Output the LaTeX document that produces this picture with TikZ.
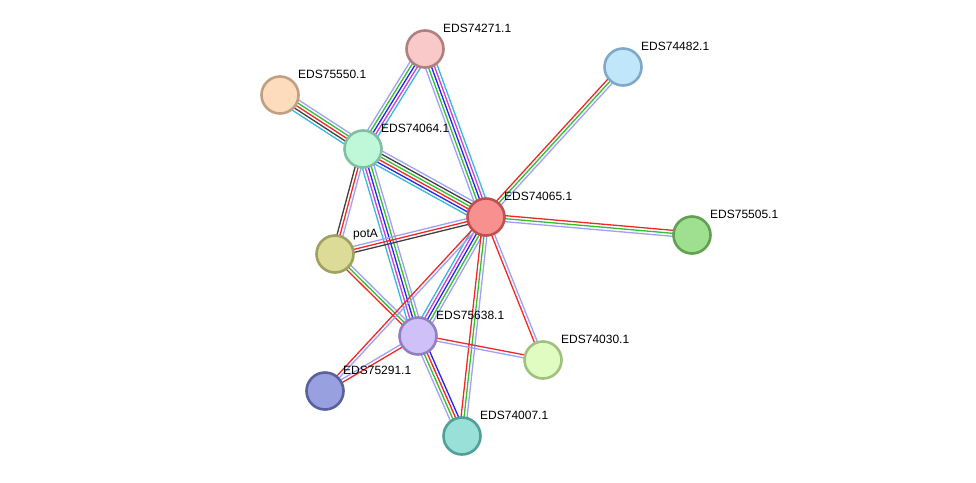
\documentclass[tikz,border=0pt]{standalone}
\usepackage{fontspec}
\setmainfont{Liberation Sans}
\usetikzlibrary{calc}
\definecolor{lav}{HTML}{A0A0F8}
\definecolor{cya}{HTML}{38B8DC}
\definecolor{mag}{HTML}{D040D0}
\definecolor{blu}{HTML}{2424F0}
\definecolor{grn}{HTML}{30C030}
\definecolor{rd}{HTML}{F02828}
\definecolor{blk}{HTML}{404040}
\newcommand\mybundle[4]{%
  \foreach \cc [count=\ii] in {#4}{%
    \pgfmathsetmacro\oo{(\ii-(#3+1)/2)*3.0}%
    \draw[edgeline,draw=\cc] ($(#1)!\oo pt!90:(#2)$) -- ($(#2)!\oo pt!-90:(#1)$);
  }%
}
\tikzset{
  edgeline/.style={line width=1.3pt},
  prot/.style={circle,minimum size=37pt,inner sep=0pt,line width=2.6pt},
  lbl/.style={anchor=base west,inner sep=0pt,font=\fontsize{12}{14}\selectfont}
}
\begin{document}
\begin{tikzpicture}[x=1pt,y=-1pt]
\useasboundingbox (0,0) rectangle (976,482);
\fill[white] (0,0) rectangle (976,482);
% centres
\coordinate (c271) at (425,49);
\coordinate (c482) at (623,67);
\coordinate (c550) at (280,95);
\coordinate (c064) at (363,149);
\coordinate (c065) at (486,217);
\coordinate (c505) at (692,235);
\coordinate (cpot) at (335,254);
\coordinate (c638) at (418,336);
\coordinate (c030) at (543,360);
\coordinate (c291) at (325,391);
\coordinate (c007) at (462,436);
% edges
\mybundle{c271}{c064}{5}{lav,grn,blu,mag,cya}
\mybundle{c271}{c065}{5}{lav,grn,blu,mag,cya}
\mybundle{c550}{c064}{5}{cya,blk,rd,grn,lav}
\mybundle{c064}{c065}{6}{cya,blu,rd,grn,blk,lav}
\mybundle{c064}{cpot}{3}{blk,rd,lav}
\mybundle{c064}{c638}{5}{cya,mag,blu,grn,lav}
\mybundle{cpot}{c065}{3}{blk,rd,lav}
\mybundle{cpot}{c638}{3}{rd,grn,lav}
\mybundle{c065}{c638}{5}{cya,mag,blu,grn,lav}
\mybundle{c065}{c291}{2}{rd,lav}
\mybundle{c638}{c291}{2}{lav,rd}
\mybundle{c065}{c007}{3}{rd,grn,lav}
\mybundle{c065}{c030}{2}{rd,lav}
\mybundle{c638}{c030}{2}{lav,rd}
\mybundle{c638}{c007}{4}{lav,grn,rd,blu}
\mybundle{c065}{c482}{3}{lav,grn,rd}
\mybundle{c065}{c505}{3}{lav,grn,rd}
% nodes
\node[prot,fill={rgb,255:red,249;green,200;blue,200},draw={rgb,255:red,176;green,128;blue,128}] (n271) at (c271) {};
\node[prot,fill={rgb,255:red,192;green,230;blue,250},draw={rgb,255:red,128;green,168;blue,200}] (n482) at (c482) {};
\node[prot,fill={rgb,255:red,252;green,220;blue,188},draw={rgb,255:red,192;green,160;blue,128}] (n550) at (c550) {};
\node[prot,fill={rgb,255:red,190;green,248;blue,216},draw={rgb,255:red,128;green,192;blue,160}] (n064) at (c064) {};
\node[prot,fill={rgb,255:red,249;green,144;blue,144},draw={rgb,255:red,192;green,80;blue,80}] (n065) at (c065) {};
\node[prot,fill={rgb,255:red,159;green,224;blue,144},draw={rgb,255:red,96;green,160;blue,80}] (n505) at (c505) {};
\node[prot,fill={rgb,255:red,220;green,220;blue,152},draw={rgb,255:red,160;green,160;blue,96}] (npot) at (cpot) {};
\node[prot,fill={rgb,255:red,208;green,192;blue,248},draw={rgb,255:red,144;green,128;blue,192}] (n638) at (c638) {};
\node[prot,fill={rgb,255:red,224;green,252;blue,192},draw={rgb,255:red,160;green,192;blue,128}] (n030) at (c030) {};
\node[prot,fill={rgb,255:red,152;green,160;blue,224},draw={rgb,255:red,88;green,96;blue,160}] (n291) at (c291) {};
\node[prot,fill={rgb,255:red,152;green,224;blue,216},draw={rgb,255:red,80;green,160;blue,152}] (n007) at (c007) {};
% labels
\node[lbl] (l271) at ($(c271)+(18,-16.5)$) {EDS74271.1};
\node[lbl] (l482) at ($(c482)+(18,-16.5)$) {EDS74482.1};
\node[lbl] (l550) at ($(c550)+(18,-16.5)$) {EDS75550.1};
\node[lbl] (l064) at ($(c064)+(18,-16.5)$) {EDS74064.1};
\node[lbl] (l065) at ($(c065)+(18,-16.5)$) {EDS74065.1};
\node[lbl] (l505) at ($(c505)+(18,-16.5)$) {EDS75505.1};
\node[lbl] (lpot) at ($(cpot)+(18,-16.5)$) {potA};
\node[lbl] (l638) at ($(c638)+(18,-16.5)$) {EDS75638.1};
\node[lbl] (l030) at ($(c030)+(18,-16.5)$) {EDS74030.1};
\node[lbl] (l291) at ($(c291)+(18,-16.5)$) {EDS75291.1};
\node[lbl] (l007) at ($(c007)+(18,-16.5)$) {EDS74007.1};
\end{tikzpicture}
\end{document}
